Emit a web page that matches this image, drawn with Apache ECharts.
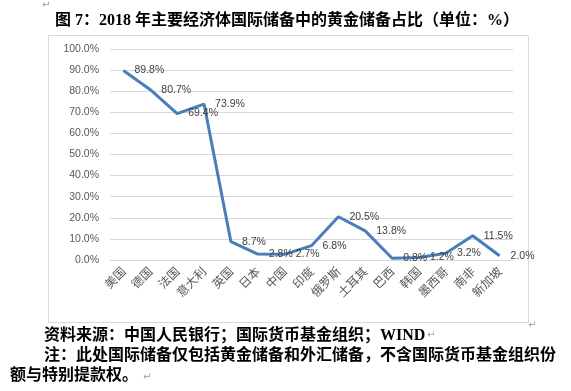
<!DOCTYPE html>
<html><head><meta charset="utf-8">
<script src="https://cdn.jsdelivr.net/npm/echarts@6/dist/echarts.min.js"></script>
<style>html,body{margin:0;padding:0;background:#fff}#c{width:571px;height:391px}</style>
</head><body><div id="c"></div>
<script>
var categories = ['美国','德国','法国','意大利','英国','日本','中国','印度','俄罗斯','土耳其','巴西','韩国','墨西哥','南非','新加坡'];
var goldShare = [89.8, 80.7, 69.4, 73.9, 8.7, 2.8, 2.7, 6.8, 20.5, 13.8, 0.8, 1.2, 3.2, 11.5, 2.0];
var titleText = '图 7：2018 年主要经济体国际储备中的黄金储备占比（单位：%）';
var sourceText = '资料来源：中国人民银行；国际货币基金组织；WIND';
var noteLine1 = '注：此处国际储备仅包括黄金储备和外汇储备，不含国际货币基金组织份';
var noteLine2 = '额与特别提款权。';

var chart = echarts.init(document.getElementById('c'), null, {renderer: 'canvas'});
var boldFont = "'Liberation Serif','Noto Sans CJK SC',serif";
function mark(l, t){ return {type:'text', left:l, top:t, style:{text:'↵', fill:'#a0a0a0', fontSize:10, fontFamily:'DejaVu Sans'}}; }
chart.setOption({
  animation: false,
  backgroundColor: '#fff',
  grid: {left: 110, right: 58, top: 49, bottom: 131, containLabel: false},
  xAxis: {
    type: 'category', data: categories, boundaryGap: true,
    axisLine: {show: true, lineStyle: {color: '#d9d9d9'}},
    axisTick: {show: false},
    axisLabel: {rotate: 45, margin: 9, color: '#595959', fontSize: 12, fontFamily: "'Noto Sans CJK SC'", interval: 0}
  },
  yAxis: {
    type: 'value', min: 0, max: 100, interval: 10,
    axisLine: {show: false}, axisTick: {show: false},
    splitLine: {lineStyle: {color: '#d9d9d9', width: 1}},
    axisLabel: {formatter: function(v){return v.toFixed(1) + '%';}, color: '#595959', fontSize: 10.5, fontFamily: "'Liberation Sans', Arial", margin: 11}
  },
  series: [{
    type: 'line', data: goldShare, showSymbol: true, symbol: 'circle', symbolSize: 0.1,
    itemStyle: {color: 'rgba(74,126,187,0)'},
    lineStyle: {color: '#4a7ebb', width: 3},
    label: {show: true, position: 'right', distance: 11, color: '#404040', fontSize: 10.5, fontFamily: "'Liberation Sans', Arial",
      formatter: function(p){return p.value.toFixed(1) + '%';}}
  }],
  graphic: [
    {type:'rect', shape:{x:48.5, y:35.5, width:480, height:287}, style:{fill:'none', stroke:'#d9d9d9', lineWidth:1}, z:-1},
    {type:'text', left:55, top:13, style:{text:titleText, fill:'#000', fontSize:16, fontWeight:'bold', fontFamily:boldFont}},
    {type:'text', left:44, top:328, style:{text:sourceText, fill:'#000', fontSize:16, fontWeight:'bold', fontFamily:boldFont}},
    {type:'text', left:44, top:348, style:{text:noteLine1, fill:'#000', fontSize:16, fontWeight:'bold', fontFamily:boldFont}},
    {type:'text', left:10, top:368, style:{text:noteLine2, fill:'#000', fontSize:16, fontWeight:'bold', fontFamily:boldFont}},
    mark(42, 0), mark(528, 320), mark(427, 330), mark(143, 372)
  ]
});
</script></body></html>
